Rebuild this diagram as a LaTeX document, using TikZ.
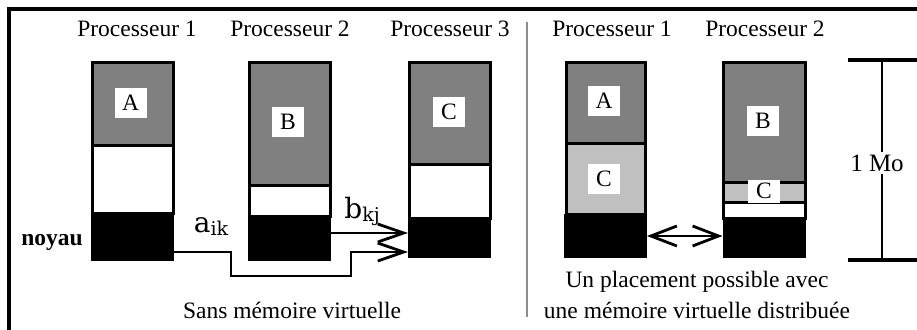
\documentclass[tikz,border=0pt]{standalone}
\usepackage{fontspec}
\setmainfont{Liberation Serif}
\setsansfont{Liberation Sans}
\newfontfamily\idxfont{DejaVu Serif}
\usetikzlibrary{arrows.meta}
\definecolor{dgray}{RGB}{128,128,128}
\definecolor{lgray}{RGB}{192,192,192}
\definecolor{divgray}{RGB}{140,140,140}
\tikzset{
  barbtip/.tip={Straight Barb[length=13pt, width=9pt, line width=1.4pt]},
  sbarbtip/.tip={Straight Barb[length=13pt, width=10pt, line width=1.4pt]}}
\begin{document}
\begin{tikzpicture}[x=0.5pt,y=-0.5pt,
  font=\fontsize{11.75}{14}\selectfont,
  seg/.style={draw=black, line width=1.5pt},
  lab/.style={fill=white, inner sep=0pt, minimum width=16pt, minimum height=15pt},
  kern/.style={fill=black, inner sep=0pt, outer sep=0pt, minimum width=41.5pt},
  txt/.style={inner sep=0pt},
  conn/.style={line width=1.4pt}]
\useasboundingbox (0,0) rectangle (917,329);
% frame
\draw[line width=1.6pt] (9,9) rectangle (940,350);
% divider
\draw[divgray, line width=1.1pt] (527,22) -- (527,317);

% headers
\node[txt] (p1) at (137,29) {Processeur 1};
\node[txt] (p2) at (290,29) {Processeur 2};
\node[txt] (p3) at (450,29) {Processeur 3};
\node[txt] (q1) at (612,29) {Processeur 1};
\node[txt] (q2) at (765,29) {Processeur 2};

% left column 1
\draw[seg, fill=dgray] (92,62) rectangle (173,145);
\draw[seg, fill=white] (92,145) rectangle (173,213);
\node[kern, minimum height=24pt] (k1) at (132.5,237) {};
% left column 2
\draw[seg, fill=dgray] (249,62) rectangle (330,185);
\draw[seg, fill=white] (249,185) rectangle (330,216);
\node[kern, minimum height=22.5pt] (k2) at (289.5,238.5) {};
% left column 3
\draw[seg, fill=dgray] (409,62) rectangle (490,164);
\draw[seg, fill=white] (409,164) rectangle (490,218);
\node[kern, minimum height=20pt] (k3) at (449.5,238) {};

% right column 1
\draw[seg, fill=dgray] (566,62) rectangle (645,143);
\draw[seg, fill=lgray] (566,143) rectangle (645,214);
\node[kern, minimum height=22pt] (r1) at (605.5,236) {};
% right column 2
\draw[seg, fill=dgray] (723,62) rectangle (805,182);
\draw[seg, fill=lgray] (723,182) rectangle (805,202);
\draw[seg, fill=white] (723,202) rectangle (805,218);
\node[kern, minimum height=20pt] (r2) at (764,238) {};

% block labels
\node[lab] (la) at (130.5,103) {A};
\node[lab] (lb) at (288,122) {B};
\node[lab] (lc) at (449,112) {C};
\node[lab] (ra) at (604,101) {A};
\node[lab] (rc) at (604,179) {C};
\node[lab] (rb) at (763,121) {B};
\node[lab, minimum height=11.5pt] (rc2) at (764,191) {C};

\node[txt, font=\fontsize{11.75}{14}\selectfont\bfseries] (noyau) at (52,242) {noyau};

% transfers
\draw[conn, -barbtip] ([yshift=-7.5pt]k1.east) -- ++(57,0) -- ++(0,24) -- ++(120,0) -- ++(0,-24) -- ([yshift=-7pt]k3.west);
\draw[conn, -barbtip] ([yshift=2.75pt]k2.east) -- ([yshift=2.5pt]k3.west);
\node[txt, font=\idxfont\fontsize{14}{16}\selectfont] (aik) at (211,227) {a\raisebox{-1.5pt}{\fontsize{9.5}{11}\selectfont ik}};
\node[txt, font=\idxfont\fontsize{14}{16}\selectfont] (bkj) at (362,211) {b\raisebox{-1.5pt}{\fontsize{9.5}{11}\selectfont kj}};

\draw[conn, sbarbtip-sbarbtip] (r1.east) -- (r1.east -| r2.west);

% 1 Mo scale
\coordinate (mtop) at (882,60);
\coordinate (mbot) at (882,260);
\coordinate (mtl) at (848,60);
\coordinate (mtr) at (940,60);
\coordinate (mbl) at (848,260);
\coordinate (mbr) at (940,260);
\node[fill=white, inner sep=1pt, font=\fontsize{12.5}{14}\selectfont] (mo) at (877,163) {1 Mo};
\draw[conn] (mtop) -- (mtop |- mo.north);
\draw[conn] (mbot |- mo.south) -- (mbot);
\draw[line width=1.6pt] (mtl) -- (mtr);
\draw[line width=1.6pt] (mbl) -- (mbr);

% captions
\node[txt] (cap1) at (292,310) {Sans mémoire virtuelle};
\node[txt] (cap2) at (697,282) {Un placement possible avec};
\node[txt] (cap3) at (697,310) {une mémoire virtuelle distribuée};
\end{tikzpicture}
\end{document}
